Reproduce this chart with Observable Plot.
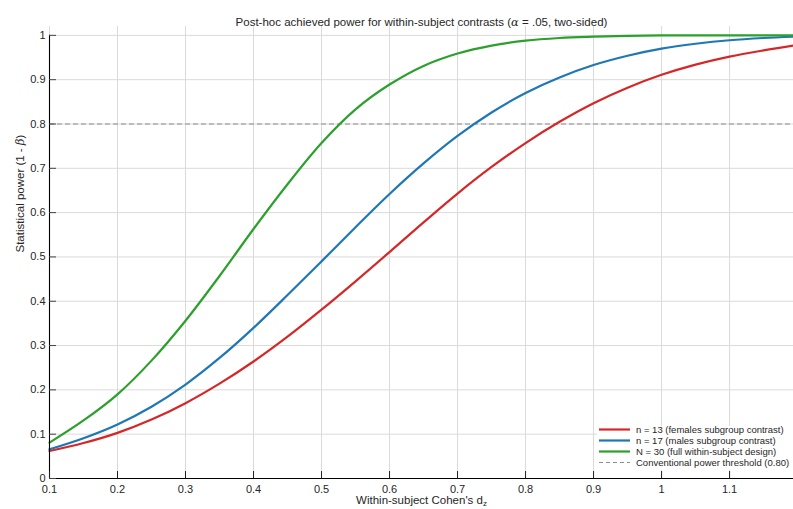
<!DOCTYPE html>
<html><head><meta charset="utf-8">
<script src="https://cdn.jsdelivr.net/npm/d3@7"></script>
<script src="https://cdn.jsdelivr.net/npm/@observablehq/plot@0.6"></script>
<style>
body{margin:0;background:#fff;}
#wrap{position:relative;width:793px;height:509px;font-family:"Liberation Sans",Arial,sans-serif;}
#legend{position:absolute;left:597px;top:426px;width:196px;height:44px;background:#fff;font-size:9.5px;color:#262626;}
.row{position:absolute;left:0;height:11px;display:flex;align-items:center;white-space:nowrap;}
.row svg{margin-right:3px;}
</style></head><body><div id="wrap"></div>
<script>
// ---- data ----
const effectSizes = [0.10,0.15,0.20,0.25,0.30,0.35,0.40,0.45,0.50,0.55,0.60,0.65,0.70,0.75,0.80,0.85,0.90,0.95,1.00,1.05,1.10,1.15,1.195];
const powerN13 = [0.062,0.080,0.103,0.133,0.170,0.214,0.264,0.320,0.381,0.445,0.511,0.578,0.643,0.703,0.757,0.805,0.847,0.882,0.911,0.934,0.952,0.966,0.977];
const powerN17 = [0.066,0.091,0.122,0.162,0.212,0.272,0.340,0.414,0.490,0.567,0.642,0.711,0.773,0.826,0.870,0.905,0.933,0.954,0.970,0.981,0.989,0.994,0.997];
const powerN30 = [0.081,0.131,0.190,0.266,0.356,0.457,0.563,0.664,0.757,0.833,0.889,0.931,0.959,0.977,0.988,0.994,0.997,0.999,1.000,1.000,1.000,1.000,1.000];
const seriesNames = ["n = 13 (females subgroup contrast)","n = 17 (males subgroup contrast)","N = 30 (full within-subject design)"];
const thresholdValue = 0.8;
const thresholdName = "Conventional power threshold (0.80)";
const xTicks = [0.1,0.2,0.3,0.4,0.5,0.6,0.7,0.8,0.9,1.0,1.1];
const yTicks = [0,0.1,0.2,0.3,0.4,0.5,0.6,0.7,0.8,0.9,1.0];
const titleText = "Post-hoc achieved power for within-subject contrasts (α = .05, two-sided)";
const xLabel = "Within-subject Cohen's d";
const yLabel = "Statistical power (1 - β)";

// ---- styles ----
const colors = ["#d62728","#1f77b4","#2ca02c"];
const seriesValues = [powerN13, powerN17, powerN30];
const table = seriesNames.flatMap((name, i) => effectSizes.map((d, j) => ({d, power: seriesValues[i][j], series: name})));

const font = "Liberation Sans, Arial, sans-serif";
const svg = Plot.plot({
  width: 793, height: 509,
  marginTop: 26, marginBottom: 31, marginLeft: 49, marginRight: 0,
  style: {fontFamily: font, background: "#fff", overflow: "visible"},
  x: {domain: [0.1, 1.194]},
  y: {domain: [0, 1.02]},
  color: {domain: seriesNames, range: colors},
  marks: [
    Plot.gridX(xTicks, {stroke: "#dadada", strokeOpacity: 1}),
    Plot.gridY(yTicks, {stroke: "#dadada", strokeOpacity: 1}),
    Plot.ruleY([thresholdValue], {stroke: "#8c8c8c", strokeWidth: 1.1, strokeDasharray: "5,3"}),
    Plot.line(table, {x: "d", y: "power", stroke: "series", curve: "catmull-rom", strokeWidth: 2.2}),
    Plot.ruleX([0.1], {y1: 0, y2: 1, stroke: "#000", strokeWidth: 1.1}),
    Plot.ruleY([0], {stroke: "#000", strokeWidth: 1.1}),
    Plot.axisX(xTicks, {tickSize: 7, dy: -7, tickFormat: () => "", stroke: "#222", label: null}),
    Plot.axisY(yTicks, {tickSize: 7, dx: 7, tickFormat: () => "", stroke: "#444", label: null}),
    Plot.axisX(xTicks, {tickSize: 0, tickPadding: 6.5, tickFormat: d => String(+d.toFixed(1)), fontSize: 11, fill: "#262626", label: null}),
    Plot.axisY(yTicks, {tickSize: 0, tickPadding: 4, tickFormat: d => String(+d.toFixed(1)), fontSize: 11, fill: "#262626", label: null}),
    Plot.text([titleText], {frameAnchor: "top", dy: -9, fontSize: 11.5, fill: "#262626"}),
    Plot.text([xLabel], {frameAnchor: "bottom", dy: 25.5, fontSize: 11.5, fill: "#262626"}),
    Plot.text([yLabel], {frameAnchor: "left", dx: -29, rotate: -90, fontSize: 11.5, fill: "#262626"})
  ]
});

// rich text touches: subscript z, italic greek letters
d3.select(svg).selectAll("text").each(function() {
  const t = this.textContent;
  const sel = d3.select(this);
  if (t === xLabel) {
    sel.append("tspan").attr("dy", "0.3em").attr("font-size", "8").text("z");
  } else if (t === yLabel || t === titleText) {
    const parts = t.split(/(α|β)/);
    sel.text(null);
    parts.forEach(p => {
      const ts = sel.append("tspan").text(p);
      if (p === "α" || p === "β") ts.attr("font-style", "italic").attr("font-family", "DejaVu Serif");
    });
  }
});

const wrap = document.getElementById("wrap");
wrap.appendChild(svg);

// legend
const legend = document.createElement("div");
legend.id = "legend";
const entries = seriesNames.map((n, i) => ({name: n, color: colors[i], dash: null}))
  .concat([{name: thresholdName, color: "#8c8c8c", dash: "4,3"}]);
const rowTops = [-2, 8.5, 19.5, 31];
entries.forEach((e, i) => {
  const row = document.createElement("div");
  row.className = "row";
  row.style.top = rowTops[i] + "px";
  row.innerHTML = `<svg width="36" height="11"><line x1="2" x2="33" y1="5.5" y2="5.5" stroke="${e.color}" stroke-width="${e.dash ? 1.1 : 2.2}" ${e.dash ? `stroke-dasharray="${e.dash}"` : ""}/></svg><span>${e.name}</span>`;
  legend.appendChild(row);
});
wrap.appendChild(legend);
</script></body></html>
